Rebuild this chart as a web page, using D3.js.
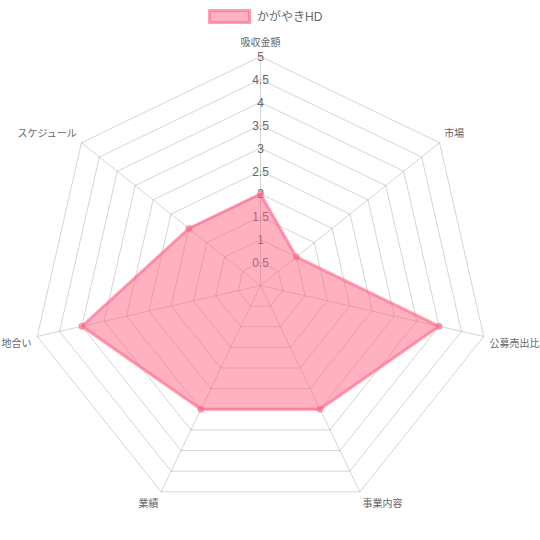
<!DOCTYPE html>
<html><head><meta charset="utf-8">
<script src="https://cdn.jsdelivr.net/npm/d3@7"></script>
<style>html,body{margin:0;padding:0;background:#fff}</style>
</head><body>
<svg id="c" width="540" height="540"></svg>
<script>
const labels = ["吸収金額","市場","公募売出比","事業内容","業績","地合い","スケジュール"];
const seriesName = "かがやきHD";
const values = [2,1,4,3,3,4,2];
const ticks = [0.5,1,1.5,2,2.5,3,3.5,4,4.5,5];

const cx=260.5, cy=285.5, R=229;
const font = "'Liberation Sans','Noto Sans CJK JP',sans-serif";
const svg = d3.select("#c");
const r = d3.scaleLinear().domain([0,5]).range([0,R]);
const n = labels.length;
const ang = i => -Math.PI/2 + i*2*Math.PI/n;
const pt = (i,v) => [cx + Math.cos(ang(i))*r(v), cy + Math.sin(ang(i))*r(v)];
const gridColor = "rgba(0,0,0,0.17)";

const g = svg.append("g");
ticks.forEach(t=>{
  g.append("polygon")
   .attr("points", labels.map((_,i)=>pt(i,t).join(",")).join(" "))
   .attr("fill","none").attr("stroke",gridColor).attr("stroke-width",1);
});
labels.forEach((_,i)=>{
  const [x,y]=pt(i,5);
  g.append("line").attr("x1",cx).attr("y1",cy).attr("x2",x).attr("y2",y)
   .attr("stroke",gridColor).attr("stroke-width",1);
});
ticks.forEach(t=>{
  g.append("text").attr("x",cx).attr("y",cy - r(t)+0.5)
   .attr("text-anchor","middle").attr("dominant-baseline","central")
   .attr("font-family",font).attr("font-size",12).attr("fill","#666").text(t);
});
labels.forEach((l,i)=>{
  const a = ang(i);
  const px = cx + Math.cos(a)*(R+6), py = cy + Math.sin(a)*(R+6);
  const deg = i*360/n;
  const anchor = (deg===0||deg===180)?"middle":(deg<180?"start":"end");
  let dy;
  if (deg===0) dy="-0.45em";
  else if (deg>270||deg<90) dy="-0.2em";
  else dy="0.95em";
  g.append("text").attr("x",px).attr("y",py).attr("dy",dy)
   .attr("text-anchor",anchor)
   .attr("font-family",font).attr("font-size",10).attr("fill","#666").text(l);
});
const line = d3.line().curve(d3.curveLinearClosed);
const pts = values.map((v,i)=>pt(i,v));
svg.append("path").attr("d", line(pts))
  .attr("fill","rgba(255,99,132,0.5)").attr("stroke","rgba(255,99,132,0.6)")
  .attr("stroke-width",3).attr("stroke-linejoin","miter");
svg.selectAll("circle.p").data(pts).join("circle").attr("class","p")
  .attr("cx",d=>d[0]).attr("cy",d=>d[1]).attr("r",3)
  .attr("fill","rgba(255,99,132,0.5)").attr("stroke","rgba(255,99,132,0.6)").attr("stroke-width",1);
svg.append("rect").attr("x",209.5).attr("y",10.5).attr("width",40).attr("height",12)
  .attr("fill","rgba(255,99,132,0.5)").attr("stroke","rgba(255,99,132,0.6)").attr("stroke-width",3);
svg.append("text").attr("x",257).attr("y",16.5).attr("dominant-baseline","central")
  .attr("font-family",font).attr("font-size",12).attr("fill","#666").text(seriesName);
</script>
</body></html>
